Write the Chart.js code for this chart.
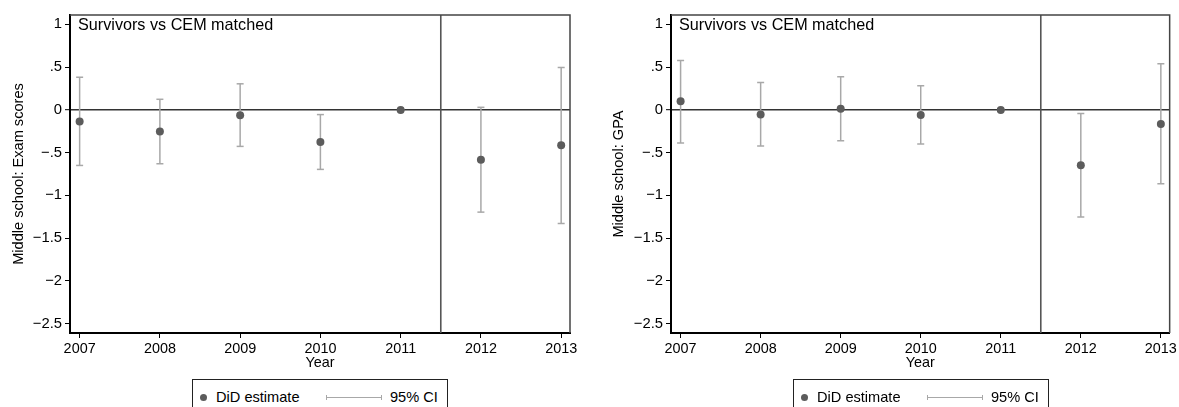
<!DOCTYPE html>
<html>
<head>
<meta charset="utf-8">
<script src="https://cdn.jsdelivr.net/npm/chart.js@4/dist/chart.umd.min.js"></script>
<style>
  html,body{margin:0;padding:0;background:#fff;}
  body{width:1179px;height:407px;overflow:hidden;position:relative;font-family:"Liberation Sans",Arial,Helvetica,sans-serif;}
  canvas{position:absolute;top:0;}
  .legend{position:absolute;top:379px;height:40px;width:256px;border:1px solid #222;box-sizing:border-box;background:#fff;}
  .legend .dot{position:absolute;left:7px;top:14px;width:7px;height:7px;border-radius:50%;background:#5c5c5c;}
  .legend .t1{position:absolute;left:23px;top:9px;font-size:14.6px;color:#000;white-space:nowrap;}
  .legend .ci{position:absolute;left:133px;top:17px;width:56px;height:1px;background:#a8a8a8;}
  .legend .ci:before,.legend .ci:after{content:"";position:absolute;top:-2px;width:1px;height:5px;background:#a8a8a8;}
  .legend .ci:before{left:0;} .legend .ci:after{right:0;}
  .legend .t2{position:absolute;left:197px;top:9px;font-size:14.6px;color:#000;white-space:nowrap;}
</style>
</head>
<body>
<canvas id="c1" width="590" height="380" style="left:0;width:590px;height:380px;"></canvas>
<canvas id="c2" width="579" height="380" style="left:600px;width:579px;height:380px;"></canvas>
<div class="legend" style="left:192px;"><div class="dot"></div><div class="t1">DiD estimate</div><div class="ci"></div><div class="t2">95% CI</div></div>
<div class="legend" style="left:793px;"><div class="dot"></div><div class="t1">DiD estimate</div><div class="ci"></div><div class="t2">95% CI</div></div>
<script>
// ---- data ----
const years = [2007, 2008, 2009, 2010, 2011, 2012, 2013];
const xTickLabels = ['2007', '2008', '2009', '2010', '2011', '2012', '2013'];
const yTicks = [1, 0.5, 0, -0.5, -1, -1.5, -2, -2.5];
const yTickLabels = ['1', '.5', '0', '\u2212.5', '\u22121', '\u22121.5', '\u22122', '\u22122.5'];

const examEst = [-0.137, -0.254, -0.063, -0.375, 0, -0.583, -0.415];
const examLo  = [-0.650, -0.630, -0.427, -0.696, 0, -1.196, -1.329];
const examHi  = [ 0.382,  0.124,  0.305, -0.055, 0,  0.030,  0.496];

const gpaEst = [ 0.101, -0.055,  0.012, -0.059, 0, -0.649, -0.164];
const gpaLo  = [-0.387, -0.422, -0.360, -0.399, 0, -1.254, -0.864];
const gpaHi  = [ 0.578,  0.320,  0.387,  0.281, 0, -0.043,  0.539];

const panelTitle = 'Survivors vs CEM matched';
const examYTitle = 'Middle school: Exam scores';
const gpaYTitle = 'Middle school: GPA';
const xTitle = 'Year';
const cutoffYear = 2011.5;
const yMin = -2.61, yMax = 1.11;
const xMin = 2006.88, xMax = 2013.11;

// ---- styling ----
const FONT = '"Liberation Sans", Arial, Helvetica, sans-serif';
Chart.defaults.font.family = FONT;
Chart.defaults.color = '#000';

const framePlugin = {
  id: 'frame',
  afterDraw(chart) {
    const {ctx, chartArea: a} = chart;
    ctx.save();
    ctx.strokeStyle = '#444';
    ctx.lineWidth = 1.5;
    ctx.beginPath();
    ctx.moveTo(a.left, a.top);
    ctx.lineTo(a.right, a.top);
    ctx.lineTo(a.right, a.bottom);
    ctx.stroke();
    ctx.fillStyle = '#000';
    ctx.font = '16.2px ' + FONT;
    ctx.textBaseline = 'alphabetic';
    ctx.textAlign = 'left';
    ctx.fillText(panelTitle, a.left + 8, a.top + 15.3);
    ctx.restore();
  }
};

function makeChart(id, est, lo, hi, yTitle, rightPad, yAxisWidth) {
  const ciData = [];
  years.forEach((yr, i) => {
    ciData.push({x: yr, y: lo[i]}, {x: yr, y: hi[i]}, {x: yr, y: null});
  });
  return new Chart(document.getElementById(id), {
    type: 'scatter',
    data: {
      datasets: [
        {
          label: 'DiD estimate', type: 'scatter',
          data: years.map((yr, i) => ({x: yr, y: est[i]})),
          pointRadius: 4, pointBackgroundColor: '#5c5c5c', pointBorderColor: '#5c5c5c',
          pointBorderWidth: 0, order: 0
        },
        {
          label: '95% CI', type: 'line', data: ciData, showLine: true, spanGaps: false,
          borderColor: '#a8a8a8', borderWidth: 1.5, fill: false,
          pointStyle: 'line', pointRadius: 3.5, pointBorderColor: '#a8a8a8', pointBorderWidth: 1.5,
          order: 1
        },
        {
          label: 'cutoff', type: 'line',
          data: [{x: cutoffYear, y: yMin}, {x: cutoffYear, y: yMax}],
          borderColor: '#555', borderWidth: 1.6, pointRadius: 0, fill: false, order: 2
        }
      ]
    },
    options: {
      responsive: false, animation: false, events: [],
      layout: {padding: {top: 15, right: rightPad, left: 0, bottom: 0}},
      plugins: {legend: {display: false}, tooltip: {enabled: false}},
      scales: {
        x: {
          type: 'linear', min: xMin, max: xMax,
          afterBuildTicks: s => { s.ticks = years.map(v => ({value: v})); },
          afterFit: s => { s.height = 47; },
          ticks: {
            callback: v => xTickLabels[years.indexOf(v)],
            font: {size: 14.4}, padding: 2, maxRotation: 0, autoSkip: false, color: '#000'
          },
          grid: {drawOnChartArea: false, drawTicks: true, tickLength: 5, tickColor: '#000', tickWidth: 1, color: '#000'},
          border: {display: true, color: '#000', width: 2},
          title: {display: true, text: xTitle, font: {size: 14.4}, color: '#000', padding: {top: 0, bottom: 8.3}}
        },
        y: {
          type: 'linear', min: yMin, max: yMax,
          afterBuildTicks: s => { s.ticks = yTicks.map(v => ({value: v})); },
          afterFit: s => { s.width = yAxisWidth; },
          ticks: {
            callback: v => yTickLabels[yTicks.indexOf(v)],
            font: {size: 14.8}, padding: 3, color: '#000'
          },
          grid: {
            drawOnChartArea: true, drawTicks: true, tickLength: 5, tickColor: '#000', tickWidth: 1,
            color: c => (c.tick && c.tick.value === 0) ? '#333' : 'rgba(0,0,0,0)',
            lineWidth: c => (c.tick && c.tick.value === 0) ? 1.4 : 1
          },
          border: {display: true, color: '#000', width: 2},
          title: {display: true, text: yTitle, font: {size: 14.6}, color: '#000', padding: {top: 10.3, bottom: 0}}
        }
      }
    },
    plugins: [framePlugin]
  });
}

makeChart('c1', examEst, examLo, examHi, examYTitle, 20, 70);
makeChart('c2', gpaEst, gpaLo, gpaHi, gpaYTitle, 8, 71);
</script>
</body>
</html>
